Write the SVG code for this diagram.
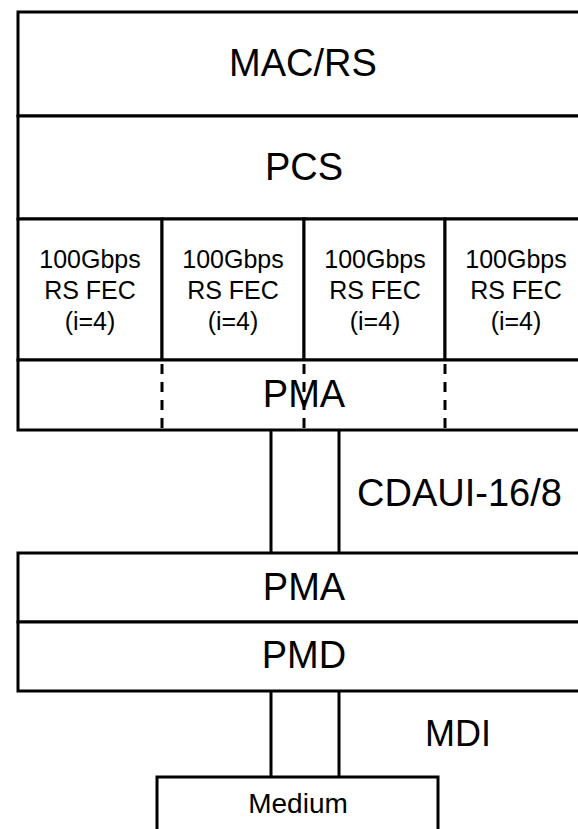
<svg xmlns="http://www.w3.org/2000/svg" width="578" height="829" viewBox="0 0 578 829">
  <style>
    .box { fill: #ffffff; stroke: #000000; stroke-width: 3; }
    .line { fill: none; stroke: #000000; stroke-width: 3; }
    .dash { fill: none; stroke: #000000; stroke-width: 3; stroke-dasharray: 10 8; }
    .big { font-family: "Liberation Sans", Arial, sans-serif; font-size: 38px; fill: #000000; }
    .mid { font-family: "Liberation Sans", Arial, sans-serif; font-size: 25px; fill: #000000; }
    .c { text-anchor: middle; }
  </style>
  <rect width="578" height="829" fill="#ffffff"/>

  <!-- Upper stack -->
  <g id="mac-rs">
    <rect class="box" x="18" y="12" width="570" height="104"/>
    <text class="big c" x="303" y="76">MAC/RS</text>
  </g>
  <g id="pcs">
    <rect class="box" x="18" y="116" width="570" height="103"/>
    <text class="big c" x="304" y="180">PCS</text>
  </g>
  <g id="fec-1">
    <rect class="box" x="18" y="219" width="144" height="141"/>
    <text class="mid c" x="90" y="268">100Gbps</text>
    <text class="mid c" x="90" y="299">RS FEC</text>
    <text class="mid c" x="90" y="330">(i=4)</text>
  </g>
  <g id="fec-2">
    <rect class="box" x="162" y="219" width="142" height="141"/>
    <text class="mid c" x="233" y="268">100Gbps</text>
    <text class="mid c" x="233" y="299">RS FEC</text>
    <text class="mid c" x="233" y="330">(i=4)</text>
  </g>
  <g id="fec-3">
    <rect class="box" x="304" y="219" width="141" height="141"/>
    <text class="mid c" x="375" y="268">100Gbps</text>
    <text class="mid c" x="375" y="299">RS FEC</text>
    <text class="mid c" x="375" y="330">(i=4)</text>
  </g>
  <g id="fec-4">
    <rect class="box" x="445" y="219" width="143" height="141"/>
    <text class="mid c" x="516" y="268">100Gbps</text>
    <text class="mid c" x="516" y="299">RS FEC</text>
    <text class="mid c" x="516" y="330">(i=4)</text>
  </g>
  <g id="pma-upper">
    <rect class="box" x="18" y="360" width="570" height="70"/>
    <line class="dash" x1="162" y1="364" x2="162" y2="430"/>
    <line class="dash" x1="304" y1="364" x2="304" y2="430"/>
    <line class="dash" x1="445" y1="364" x2="445" y2="430"/>
    <text class="big c" x="304" y="407">PMA</text>
  </g>

  <!-- Lower stack -->
  <g id="pma-lower">
    <rect class="box" x="18" y="553" width="570" height="69"/>
    <text class="big c" x="304" y="600">PMA</text>
  </g>
  <g id="pmd">
    <rect class="box" x="18" y="622" width="570" height="69"/>
    <text class="big c" x="304" y="668">PMD</text>
  </g>
  <g id="medium">
    <rect class="box" x="157" y="777" width="281" height="70"/>
    <text class="mid c" x="298" y="813" style="font-size:28px">Medium</text>
  </g>

  <!-- Interfaces -->
  <g id="connectors">
    <line class="line" x1="271" y1="430" x2="271" y2="553"/>
    <line class="line" x1="339" y1="430" x2="339" y2="553"/>
    <line class="line" x1="271" y1="691" x2="271" y2="777"/>
    <line class="line" x1="339" y1="691" x2="339" y2="777"/>
  </g>
  <text class="big" x="357" y="506">CDAUI-16/8</text>
  <text class="big" x="425" y="746" style="font-size:36px">MDI</text>
</svg>
